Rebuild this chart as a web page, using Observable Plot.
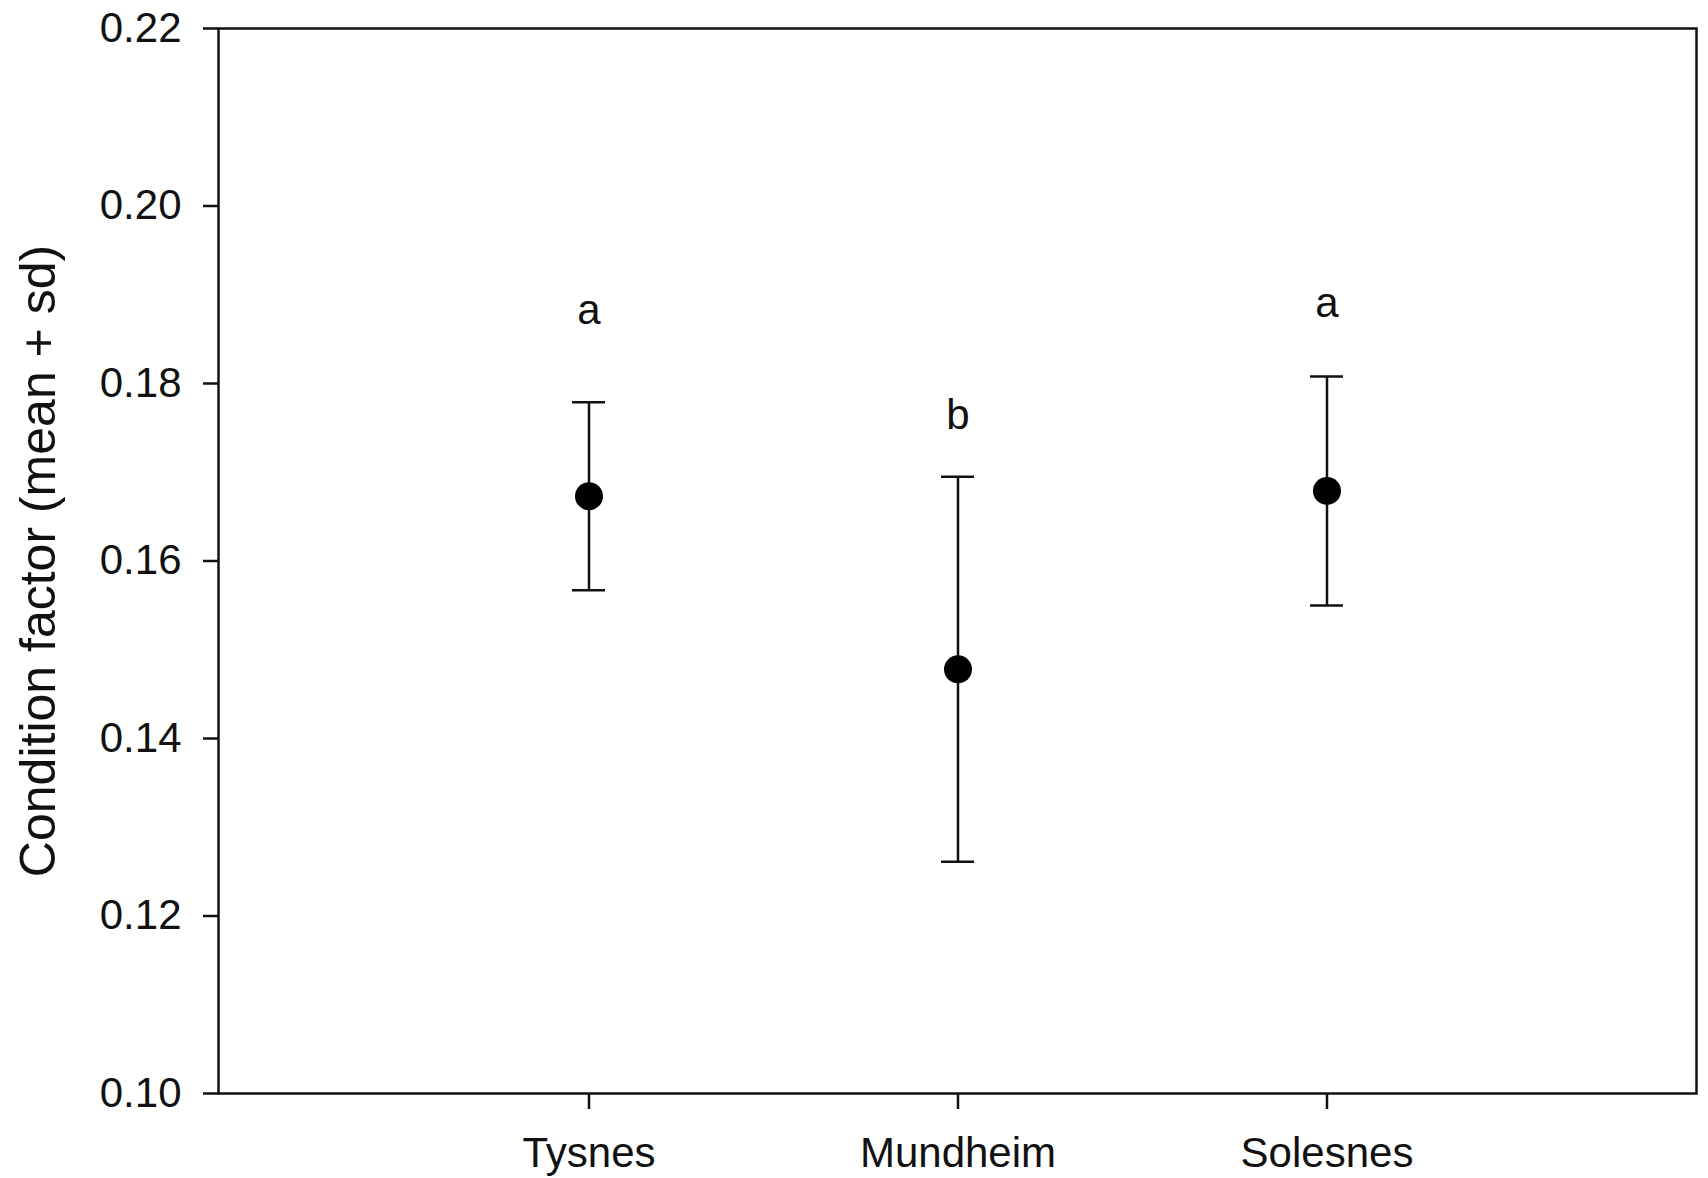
<!DOCTYPE html>
<html>
<head>
<meta charset="utf-8">
<script src="https://cdn.jsdelivr.net/npm/d3@7"></script>
<script src="https://cdn.jsdelivr.net/npm/@observablehq/plot@0.6"></script>
<style>
  html, body { margin: 0; padding: 0; background: #fff; }
  #chart svg { display: block; }
</style>
</head>
<body>
<div id="chart"></div>
<script>
const sites = ["Tysnes", "Mundheim", "Solesnes"];
const means = [0.1673, 0.1478, 0.1679];
const sds = [0.0106, 0.0217, 0.0129];
const letters = ["a", "b", "a"];
const letterY = [0.1882, 0.1764, 0.1890];
const yTicks = [0.10, 0.12, 0.14, 0.16, 0.18, 0.20, 0.22];
const yLabel = "Condition factor (mean + sd)";

const rows = sites.map((s, i) => ({
  site: s, mean: means[i], lo: means[i] - sds[i], hi: means[i] + sds[i],
  letter: letters[i], ly: letterY[i]
}));

const font = "'Liberation Sans', Arial, Helvetica, sans-serif";

const chart = Plot.plot({
  width: 1708,
  height: 1178,
  marginLeft: 218,
  marginRight: 12,
  marginTop: 28,
  marginBottom: 85,
  style: { fontFamily: font, fontSize: "42px", color: "#111", background: "#fff" },
  x: { type: "band", domain: sites, paddingInner: 0.9107, paddingOuter: 0.9554, label: null },
  y: { domain: [0.10, 0.22], label: null },
  marks: [
    Plot.axisY({ ticks: yTicks, tickFormat: d3.format(".2f"), tickSize: 15, tickPadding: 22, fontSize: 42, strokeWidth: 2.5, label: null }),
    Plot.axisX({ tickSize: 16, tickPadding: 28, fontSize: 42, strokeWidth: 2.5, label: null }),
    Plot.frame({ stroke: "#111", strokeWidth: 2.5 }),
    Plot.ruleX(rows, { x: "site", y1: "lo", y2: "hi", stroke: "#111", strokeWidth: 2.5 }),
    Plot.tickY(rows, { x: "site", y: "hi", stroke: "#111", strokeWidth: 2.5 }),
    Plot.tickY(rows, { x: "site", y: "lo", stroke: "#111", strokeWidth: 2.5 }),
    Plot.dot(rows, { x: "site", y: "mean", r: 14, fill: "#000", stroke: "none" }),
    Plot.text(rows, { x: "site", y: "ly", text: "letter", fontSize: 42, fill: "#111" }),
    Plot.text([yLabel], { text: d => d, frameAnchor: "left", textAnchor: "middle", lineAnchor: "middle", dx: -180, rotate: -90, fontSize: 50, fill: "#111" })
  ]
});
document.getElementById("chart").append(chart);
</script>
</body>
</html>
